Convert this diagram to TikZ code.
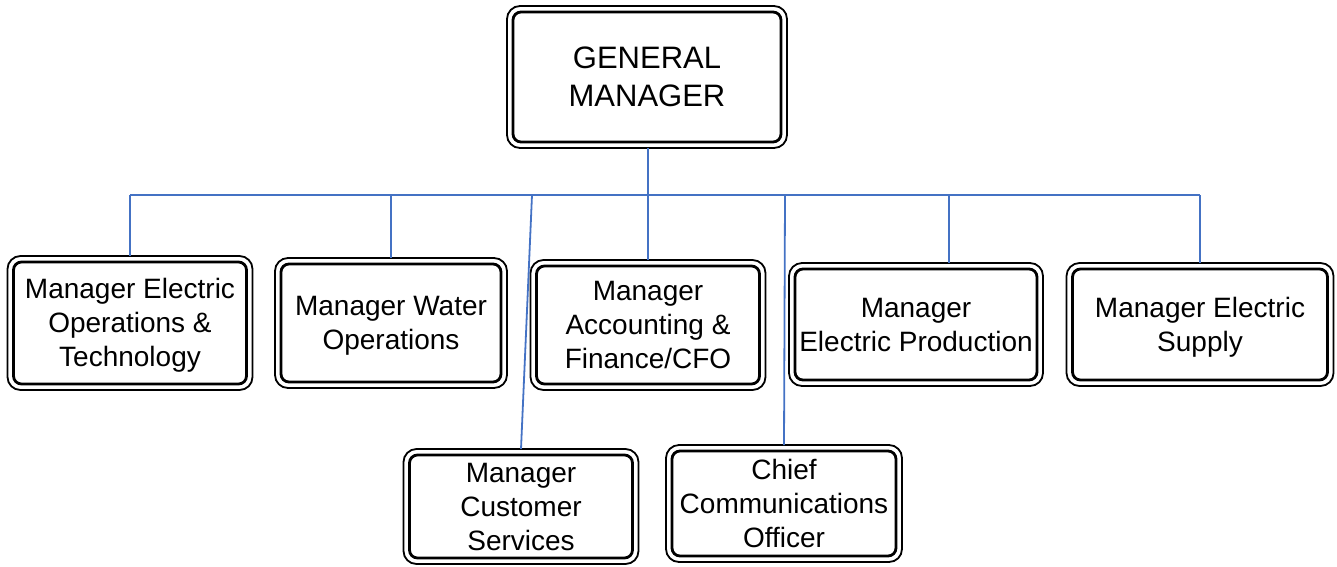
\documentclass[tikz,border=0pt]{standalone}
\usepackage{fontspec}
\setmainfont{Liberation Sans}
\definecolor{connblue}{HTML}{4472C4}
\newcommand\myTopRule{\rule{0pt}{0.905em}}
\newcommand\myBotRule{\rule[-0.212em]{0pt}{0.212em}}
\begin{document}
\begin{tikzpicture}[x=1pt,y=-1pt,
  orgbox/.style={draw, line width=1.8pt, rounded corners=13pt, inner sep=0pt, outer sep=0pt,
    align=center, font=\fontsize{28}{34}\selectfont},
  gmbox/.style={orgbox, font=\fontsize{31}{38}\selectfont},
  innerline/.style={draw, line width=2.8pt, rounded corners=8pt},
  conn/.style={draw=connblue, line width=1.8pt}]
\useasboundingbox (0,0) rectangle (1337,566);
% boxes (outer outline)
\node[gmbox, minimum width=280pt, minimum height=142pt] (gm) at (647,77) {\myTopRule GENERAL\\MANAGER\myBotRule};
\node[orgbox, minimum width=245pt, minimum height=134pt] (b1) at (130,323) {\myTopRule Manager Electric\\Operations \&\\Technology\myBotRule};
\node[orgbox, minimum width=232pt, minimum height=130pt] (b2) at (391,323) {\myTopRule Manager Water\\Operations\myBotRule};
\node[orgbox, minimum width=235pt, minimum height=130pt] (b3) at (648,325) {\myTopRule Manager\\Accounting \&\\Finance/CFO\myBotRule};
\node[orgbox, minimum width=254pt, minimum height=123pt] (b4) at (916,324.5) {\myTopRule Manager\\Electric Production\myBotRule};
\node[orgbox, minimum width=267pt, minimum height=123pt] (b5) at (1200,324.5) {\myTopRule Manager Electric\\Supply\myBotRule};
\node[orgbox, minimum width=235pt, minimum height=115pt] (b6) at (521,506.5) {\myTopRule Manager\\Customer\\Services\myBotRule};
\node[orgbox, minimum width=236pt, minimum height=117pt] (b7) at (784,503.5) {\myTopRule Chief\\Communications\\Officer\myBotRule};
% inner outlines
\foreach \n in {gm,b1,b2,b3,b4,b5,b6,b7}{
  \path[innerline] ([shift={(6pt,-6pt)}]\n.north west) rectangle ([shift={(-6pt,6pt)}]\n.south east);
}
% connectors
\coordinate (busM) at (648,195);
\coordinate (t4) at (949,195);
\coordinate (s6) at (532,195);
\coordinate (s7) at (785,195);
\path[conn] (gm.south -| busM) -- (busM);
\path[conn] (b1.north |- busM) -- (b5.north |- busM);
\path[conn] (b1.north |- busM) -- (b1.north);
\path[conn] (b2.north |- busM) -- (b2.north);
\path[conn] (b3.north |- busM) -- (b3.north);
\path[conn] (t4) -- (t4 |- b4.north);
\path[conn] (b5.north |- busM) -- (b5.north);
\path[conn] (s6) -- (b6.north);
\path[conn] (s7) -- (b7.north);
\end{tikzpicture}
\end{document}
